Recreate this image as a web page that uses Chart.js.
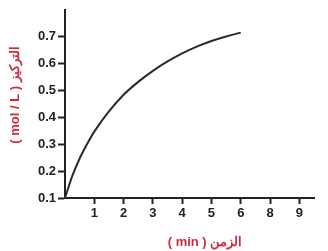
<!DOCTYPE html>
<html>
<head>
<meta charset="utf-8">
<script src="https://cdn.jsdelivr.net/npm/chart.js"></script>
<style>
  html, body { margin: 0; padding: 0; background: #fff; }
  #wrap { width: 328px; height: 251px; }
</style>
</head>
<body>
<div id="wrap"><canvas id="chart"></canvas></div>
<script>
// time (min) and concentration (mol/L)
const times = [0, 0.25, 0.5, 0.75, 1, 1.5, 2, 2.5, 3, 3.5, 4, 4.5, 5, 5.5, 6];
const conc  = [0.1, 0.182, 0.247, 0.3, 0.347, 0.422, 0.484, 0.532, 0.573, 0.608, 0.638, 0.663, 0.684, 0.701, 0.715];

// x tick positions and the labels printed under them (the 7 is skipped in the original)
const xTickPos = [1, 2, 3, 4, 5, 6, 7, 8];
const xTickLabels = ['1', '2', '3', '4', '5', '6', '8', '9'];
const yTicks = [0.1, 0.2, 0.3, 0.4, 0.5, 0.6, 0.7];

const xTitle = '( min ) الزمن';
const yTitle = '( mol / L ) التركيز';
const titleColor = '#d3293f';

const points = times.map((t, i) => ({ x: t, y: conc[i] }));

// axis titles drawn at fixed spots like in the scan
const titlesPlugin = {
  id: 'titles',
  afterDraw(chart) {
    const c = chart.ctx;
    c.save();
    c.fillStyle = titleColor;
    c.font = 'bold 13px "Liberation Sans", Arial, sans-serif';
    c.textAlign = 'center';
    c.textBaseline = 'middle';
    c.fillText(xTitle, 205, 242);
    c.translate(15, 95);
    c.rotate(-Math.PI / 2);
    c.fillText(yTitle, 0, 0);
    c.restore();
  }
};

new Chart(document.getElementById('chart'), {
  type: 'scatter',
  data: {
    datasets: [{
      data: points,
      showLine: true,
      borderColor: '#2b2b2b',
      borderWidth: 2,
      pointRadius: 0,
      cubicInterpolationMode: 'monotone'
    }]
  },
  options: {
    responsive: true,
    maintainAspectRatio: false,
    animation: false,
    layout: { padding: { top: 9, right: 14, left: 0, bottom: 0 } },
    plugins: { legend: { display: false }, tooltip: { enabled: false } },
    scales: {
      x: {
        type: 'linear',
        min: 0,
        max: 8.5,
        afterBuildTicks: s => { s.ticks = xTickPos.map(v => ({ value: v })); },
        afterFit: s => { s.height = 53; },
        ticks: {
          autoSkip: false,
          maxRotation: 0,
          padding: 2,
          color: '#222',
          font: { family: '"Liberation Sans", Arial, sans-serif', size: 13, weight: 'bold' },
          callback: (v) => xTickLabels[xTickPos.indexOf(v)]
        },
        grid: { drawOnChartArea: false, tickLength: 6, tickColor: '#222', tickWidth: 2 },
        border: { color: '#222', width: 2 }
      },
      y: {
        min: 0.1,
        max: 0.8,
        afterBuildTicks: s => { s.ticks = yTicks.map(v => ({ value: v })); },
        afterFit: s => { s.width = 65; },
        ticks: {
          padding: 2,
          color: '#222',
          font: { family: '"Liberation Sans", Arial, sans-serif', size: 13, weight: 'bold' },
          callback: v => v.toFixed(1)
        },
        grid: { drawOnChartArea: false, tickLength: 7, tickColor: '#222', tickWidth: 2 },
        border: { color: '#222', width: 2 }
      }
    }
  },
  plugins: [titlesPlugin]
});
</script>
</body>
</html>
